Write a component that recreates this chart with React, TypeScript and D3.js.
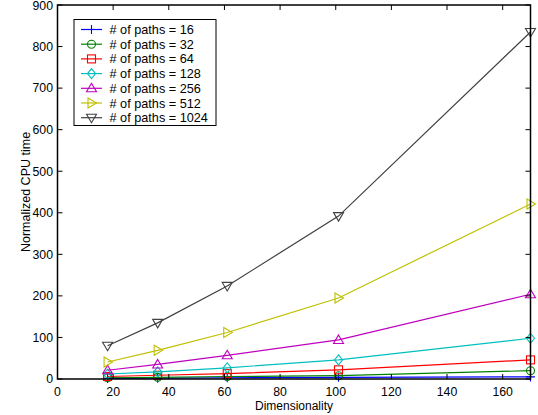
import React from 'react';
import * as d3 from 'd3';

const dims = [18, 36, 61, 101, 170];
const pathCounts = [16, 32, 64, 128, 256, 512, 1024];
const cpu16 = [1.5, 2, 3, 4, 5];
const cpu32 = [3, 4, 6, 8, 20];
const cpu64 = [6, 9, 13, 22, 46];
const cpu128 = [12, 17, 27, 46, 98];
const cpu256 = [21, 35, 57, 94, 204];
const cpu512 = [41, 69, 112, 195, 421];
const cpu1024 = [80, 135, 224, 392, 835];
const xTicks = [0, 20, 40, 60, 80, 100, 120, 140, 160];
const yTicks = [0, 100, 200, 300, 400, 500, 600, 700, 800, 900];

const seriesValues = [cpu16, cpu32, cpu64, cpu128, cpu256, cpu512, cpu1024];
const colors = ['#0000ff', '#008000', '#ff0000', '#00bfbf', '#bf00bf', '#bfbf00', '#404040'];
const markers = ['plus', 'circle', 'square', 'diamond', 'up', 'right', 'down'];

const W = 538;
const H = 415;
const left = 57.5;
const right = 530.5;
const top = 5;
const bottom = 379;
const font = 'Liberation Sans, Arial, Helvetica, sans-serif';

function Marker({ kind, x, y, color }: { kind: string; x: number; y: number; color: string }) {
  const s = 4.5;
  const common = { fill: 'none', stroke: color, strokeWidth: 1.1 };
  if (kind === 'plus') return <path d={`M${x - s},${y}H${x + s}M${x},${y - s}V${y + s}`} {...common} />;
  if (kind === 'circle') return <circle cx={x} cy={y} r={4} {...common} />;
  if (kind === 'square') return <rect x={x - 4} y={y - 4} width={8} height={8} {...common} />;
  if (kind === 'diamond') return <path d={`M${x},${y - 5}L${x + 4},${y}L${x},${y + 5}L${x - 4},${y}Z`} {...common} />;
  if (kind === 'up') return <path d={`M${x},${y - 5}L${x + 5},${y + 3.5}L${x - 5},${y + 3.5}Z`} {...common} />;
  if (kind === 'right') return <path d={`M${x + 5},${y}L${x - 3.5},${y - 5}L${x - 3.5},${y + 5}Z`} {...common} />;
  return <path d={`M${x},${y + 5}L${x + 5},${y - 3.5}L${x - 5},${y - 3.5}Z`} {...common} />;
}

export default function App() {
  const x = d3.scaleLinear().domain([0, 170]).range([left, right]);
  const y = d3.scaleLinear().domain([0, 900]).range([bottom, top]);
  const line = d3.line<number>().x((_, i) => x(dims[i])).y(d => y(d));

  const legX = 74;
  const legY = 19.5;
  const rowH = 14.7;

  return (
    <svg width={W} height={H} style={{ position: 'absolute', left: 0, top: 0, background: '#fff' }}>
      <rect x={0} y={0} width={W} height={H} fill="#fff" />
      {seriesValues.map((vals, si) => (
        <g key={si}>
          <path d={line(vals) || ''} fill="none" stroke={colors[si]} strokeWidth={1.2} />
          {vals.map((v, i) => (
            <Marker key={i} kind={markers[si]} x={x(dims[i])} y={y(v)} color={colors[si]} />
          ))}
        </g>
      ))}
      {/* axes box */}
      <rect x={left} y={top} width={right - left} height={bottom - top} fill="none" stroke="#000" strokeWidth={1.5} />
      {xTicks.map(t => (
        <g key={t}>
          <line x1={x(t)} x2={x(t)} y1={bottom} y2={bottom - 5} stroke="#000" />
          <line x1={x(t)} x2={x(t)} y1={top} y2={top + 5} stroke="#000" />
          <text x={x(t)} y={395.5} textAnchor="middle" fontFamily={font} fontSize={12.3}>{t}</text>
        </g>
      ))}
      {yTicks.map(t => (
        <g key={t}>
          <line x1={left} x2={left + 5} y1={y(t)} y2={y(t)} stroke="#000" />
          <line x1={right} x2={right - 5} y1={y(t)} y2={y(t)} stroke="#000" />
          <text x={53} y={Math.max(y(t) + 4.3, 10)} textAnchor="end" fontFamily={font} fontSize={12.3}>{t}</text>
        </g>
      ))}
      <text x={x(85)} y={409.5} textAnchor="middle" fontFamily={font} fontSize={12}>Dimensionality</text>
      <text transform={`translate(29.5,${y(450)}) rotate(-90)`} textAnchor="middle" fontFamily={font} fontSize={12.5}>Normalized CPU time</text>
      {/* legend */}
      <rect x={legX} y={legY} width={142} height={106} fill="#fff" stroke="#000" strokeWidth={1} />
      {pathCounts.map((p, i) => {
        const ry = legY + 10 + i * rowH;
        return (
          <g key={p}>
            <line x1={81} x2={102} y1={ry} y2={ry} stroke={colors[i]} strokeWidth={1.2} />
            <Marker kind={markers[i]} x={91.5} y={ry} color={colors[i]} />
            <text x={109.5} y={ry + 4.5} fontFamily={font} fontSize={12.7}>{`# of paths = ${p}`}</text>
          </g>
        );
      })}
    </svg>
  );
}
